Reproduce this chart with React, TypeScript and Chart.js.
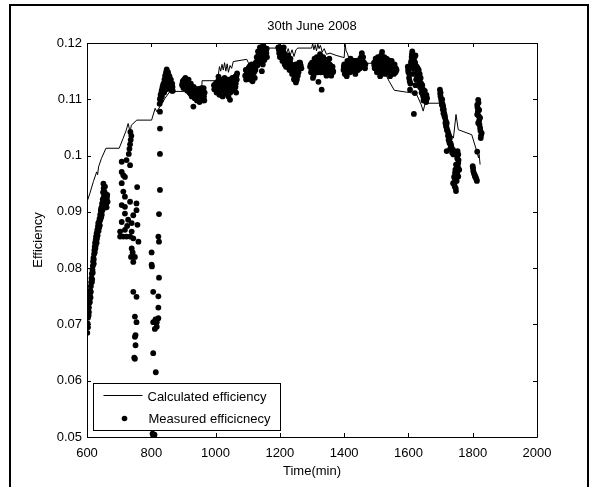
import { useEffect, useRef } from 'react';
import { Chart, registerables } from 'chart.js';

Chart.register(...registerables);

const FONT = '"Liberation Sans", Arial, Helvetica, sans-serif';

const chartTitle = '30th June 2008';
const xAxisTitle = 'Time(min)';
const yAxisTitle = 'Efficiency';
const seriesNames = ['Calculated efficiency', 'Measured efficicnecy'];

const xTicks = [600, 800, 1000, 1200, 1400, 1600, 1800, 2000];
const xTickLabels = ['600', '800', '1000', '1200', '1400', '1600', '1800', '2000'];
const yTicks = [0.05, 0.06, 0.07, 0.08, 0.09, 0.1, 0.11, 0.12];
const yTickLabels = ['0.05', '0.06', '0.07', '0.08', '0.09', '0.1', '0.11', '0.12'];

// Calculated efficiency [time (min), efficiency]
const calculated: [number, number][] = [
  [600,0.0918],[609,0.0933],[620,0.0954],[630,0.0971],[633,0.0966],[636,0.098],[645,0.0995],[659,0.1013],
  [700,0.1013],[712,0.103],[722,0.1045],[728,0.1057],[734,0.1042],[738,0.1054],[755,0.1063],[801,0.1063],
  [812,0.1084],[817,0.1078],[827,0.1087],[843,0.1102],[858,0.1114],[957,0.1114],[958,0.1133],[1003,0.1133],
  [1008,0.114],[1012,0.1158],[1016,0.115],[1020,0.1162],[1024,0.1152],[1028,0.1165],[1032,0.115],[1036,0.1163],
  [1040,0.1148],[1045,0.116],[1050,0.1155],[1055,0.1167],[1097,0.1171],[1102,0.1165],[1108,0.115],[1115,0.1145],
  [1120,0.116],[1128,0.117],[1135,0.1178],[1142,0.1185],[1151,0.1196],[1155,0.1191],[1195,0.1191],[1198,0.1198],
  [1201,0.1175],[1205,0.1185],[1210,0.1178],[1215,0.1189],[1220,0.118],[1226,0.119],[1232,0.1178],[1238,0.1188],
  [1244,0.1176],[1250,0.1188],[1256,0.1191],[1299,0.1191],[1302,0.1199],[1306,0.1188],[1310,0.1197],[1314,0.1186],
  [1318,0.1198],[1322,0.119],[1326,0.1196],[1332,0.1184],[1338,0.119],[1345,0.118],[1356,0.1182],[1375,0.1178],
  [1400,0.1174],[1403,0.1198],[1406,0.1186],[1410,0.1182],[1418,0.1167],[1434,0.1164],[1501,0.1164],[1510,0.1155],
  [1520,0.115],[1532,0.1141],[1540,0.1132],[1552,0.112],[1556,0.1116],[1590,0.1113],[1605,0.1112],[1626,0.1108],
  [1640,0.109],[1646,0.1079],[1652,0.1093],[1698,0.1093],[1708,0.107],[1719,0.1049],[1740,0.1031],[1748,0.1073],
  [1755,0.1046],[1797,0.1037],[1814,0.1005],[1818,0.0996],[1820,0.1002],[1823,0.0984],
];

// Measured efficiency, by group of readings [time (min), efficiency]
const measuredA: [number, number][] = [
  [601,0.0685],[602,0.0702],[603,0.0712],[604,0.0722],[605,0.0716],[606,0.073],[607,0.0738],[608,0.0746],
  [609,0.0752],[610,0.076],[611,0.0748],[612,0.0768],[613,0.0775],[614,0.0782],[615,0.079],[616,0.078],
  [617,0.0797],[618,0.0804],[619,0.0812],[620,0.0818],[621,0.0808],[622,0.0825],[623,0.0832],[624,0.0838],
  [625,0.0845],[626,0.0835],[627,0.085],[628,0.0856],[630,0.0862],[631,0.0852],[632,0.0868],[634,0.0874],
  [636,0.0866],[637,0.0882],[639,0.0888],[640,0.0876],[641,0.0895],[643,0.0902],[644,0.089],[645,0.0908],
  [647,0.0915],[648,0.0903],[649,0.0922],[650,0.0935],[651,0.095],[652,0.0942],[653,0.0928],[654,0.0912],
  [655,0.0935],[656,0.0945],[657,0.092],[658,0.0908],[660,0.0915],[662,0.0925],[664,0.0918],[659,0.093],
  [603,0.0695],[606,0.0722],[609,0.074],[612,0.0758],[615,0.0775],[618,0.0792],[621,0.0815],[624,0.0828],
  [627,0.084],[630,0.0845],[633,0.0858],[635,0.088],[638,0.0872],[641,0.0885],[644,0.0905],[646,0.0895],
  [649,0.0912],[652,0.0925],[655,0.0915],[658,0.0925],[661,0.0908],[663,0.093],
];
const measuredB: [number, number][] = [
  [708,0.0989],[723,0.0992],[734,0.0983],[708,0.0971],[718,0.0962],[708,0.0951],[713,0.0936],[718,0.0927],
  [708,0.0912],[718,0.0909],[734,0.0918],[756,0.0944],[754,0.0915],[754,0.0903],[744,0.0894],[718,0.0897],
  [708,0.0882],[728,0.0886],[739,0.088],[757,0.0877],[703,0.0865],[718,0.0868],[739,0.0865],[703,0.0856],
  [723,0.0856],[744,0.0853],[713,0.0856],[734,0.0856],[760,0.0847],[739,0.0835],[737,0.082],[749,0.082],
  [744,0.0811],[744,0.0758],[754,0.0749],[749,0.0714],[754,0.0704],[749,0.0678],[751,0.0663],[749,0.0639],
  [747,0.0641],[751,0.0681],[730,0.1003],[732,0.1012],[734,0.102],[736,0.1028],[738,0.1035],[735,0.1042],
  [713,0.0965],[725,0.0875],[742,0.0828],
];
const measuredC: [number, number][] = [
  [827,0.1078],[827,0.1048],[827,0.1003],[827,0.0939],[824,0.0896],[822,0.0856],[824,0.0847],[801,0.0828],
  [801,0.0806],[802,0.0803],[824,0.0783],[806,0.0758],[822,0.075],[822,0.073],[822,0.0711],[806,0.0704],
  [817,0.0704],[817,0.0696],[811,0.0692],[813,0.0709],[806,0.0649],[814,0.0615],[806,0.0503],[808,0.0502],
  [804,0.0506],[810,0.0504],
];
const measuredD: [number, number][] = [
  [826,0.1092],[827,0.11],[829,0.1108],[830,0.1098],[832,0.1115],[833,0.1105],[835,0.1122],[836,0.1112],
  [838,0.1128],[839,0.1118],[841,0.1135],[842,0.1125],[843,0.1142],[845,0.1132],[846,0.1148],[848,0.1153],
  [849,0.114],[850,0.1128],[852,0.1148],[853,0.1135],[855,0.1142],[856,0.1125],[858,0.1132],[860,0.1118],
  [862,0.1128],[864,0.1115],[866,0.1122],[847,0.1118],[840,0.1112],
  [828,0.1102],[831,0.111],[834,0.1118],[837,0.1125],[840,0.1128],[844,0.1138],[847,0.1142],[850,0.1148],
  [851,0.1135],[854,0.1128],[857,0.114],[859,0.1125],[861,0.1135],[863,0.1122],[865,0.1128],[867,0.1115],
];
const measuredE: [number, number][] = [
  [896,0.1125],[898,0.1132],[900,0.112],[902,0.1135],[904,0.1128],[906,0.1138],[908,0.1122],[910,0.113],
  [912,0.1115],[914,0.1125],[916,0.1135],[918,0.1118],[920,0.1128],[922,0.111],[924,0.112],[926,0.1105],
  [928,0.1115],[931,0.1087],[932,0.1122],[934,0.1108],[936,0.1118],[938,0.1102],[940,0.1112],[942,0.1098],
  [944,0.1108],[946,0.1118],[948,0.1103],[950,0.1095],[952,0.1112],[954,0.1102],[956,0.112],[958,0.1108],
  [960,0.1098],[962,0.1115],[964,0.1105],[966,0.1112],
  [897,0.1128],[901,0.1128],[905,0.1132],[907,0.1128],[909,0.1135],[911,0.1125],[913,0.112],[915,0.113],
  [917,0.1125],[919,0.1112],[921,0.1118],[923,0.1128],[925,0.1112],[927,0.112],[929,0.1108],[933,0.1112],
  [935,0.1102],[937,0.111],[939,0.1118],[941,0.1105],[943,0.1115],[945,0.1105],[947,0.111],[949,0.1118],
  [951,0.1105],[953,0.1108],[955,0.1115],[957,0.1102],[959,0.1112],[961,0.1108],[963,0.112],[965,0.1098],
];
const measuredF: [number, number][] = [
  [995,0.1125],[998,0.1118],[1000,0.1128],[1003,0.1112],[1005,0.1122],[1008,0.1132],[1010,0.1118],[1012,0.1108],
  [1015,0.1125],[1018,0.1135],[1020,0.1115],[1022,0.1105],[1025,0.1128],[1028,0.1138],[1030,0.112],[1032,0.111],
  [1035,0.1128],[1038,0.1118],[1040,0.1105],[1042,0.1135],[1045,0.1099],[1048,0.1125],[1050,0.1115],[1052,0.1138],
  [1055,0.1128],[1058,0.1118],[1060,0.1132],[1062,0.1122],[1064,0.1112],[1065,0.1142],[1066,0.1135],[1067,0.1146],
  [996,0.1118],[999,0.1125],[1002,0.1118],[1004,0.113],[1007,0.1125],[1009,0.114],[1011,0.1128],[1014,0.1115],
  [1016,0.1132],[1019,0.1125],[1021,0.1122],[1024,0.1115],[1026,0.1132],[1029,0.1128],[1031,0.1128],[1034,0.1118],
  [1036,0.1135],[1039,0.1128],[1041,0.1115],[1044,0.1125],[1046,0.1112],[1049,0.1132],[1051,0.1122],[1054,0.1118],
  [1056,0.1135],[1059,0.1125],[1061,0.114],[1063,0.1128],
];
const measuredG: [number, number][] = [
  [1092,0.1142],[1095,0.1135],[1098,0.1148],[1100,0.1138],[1102,0.1155],[1105,0.1145],[1108,0.1135],[1110,0.115],
  [1112,0.1162],[1115,0.1142],[1118,0.1155],[1120,0.1148],[1122,0.1138],[1125,0.1165],[1128,0.1175],[1130,0.116],
  [1132,0.1185],[1135,0.117],[1138,0.1192],[1140,0.1178],[1142,0.1165],[1144,0.115],[1145,0.1188],[1148,0.1196],
  [1150,0.118],[1152,0.117],[1155,0.119],[1158,0.1182],[1160,0.1175],[1105,0.1158],[1115,0.1132],
  [1094,0.1152],[1097,0.1142],[1100,0.1152],[1103,0.114],[1107,0.1148],[1110,0.114],[1113,0.1152],[1117,0.1148],
  [1121,0.1158],[1124,0.1152],[1127,0.1162],[1130,0.117],[1133,0.1178],[1136,0.1182],[1139,0.117],[1141,0.1188],
  [1143,0.1178],[1146,0.117],[1149,0.1188],[1151,0.1192],[1153,0.118],[1156,0.1185],[1159,0.119],[1147,0.1162],
];
const measuredH: [number, number][] = [
  [1195,0.1192],[1198,0.1182],[1200,0.1175],[1203,0.1188],[1205,0.1178],[1208,0.1168],[1210,0.1185],[1212,0.1172],
  [1215,0.1162],[1218,0.1178],[1220,0.1168],[1222,0.1158],[1225,0.1172],[1228,0.1162],[1230,0.1152],[1232,0.1165],
  [1235,0.1155],[1238,0.1145],[1240,0.1158],[1242,0.1148],[1245,0.1138],[1248,0.1152],[1250,0.1142],[1253,0.1135],
  [1255,0.1158],[1258,0.1148],[1260,0.1165],[1262,0.1155],[1265,0.116],[1250,0.113],[1200,0.1192],[1212,0.1192],
  [1197,0.1188],[1202,0.118],[1206,0.1188],[1209,0.1175],[1213,0.1182],[1217,0.117],[1219,0.1158],[1223,0.1165],
  [1226,0.1178],[1229,0.1155],[1233,0.1172],[1236,0.1162],[1239,0.1152],[1243,0.1158],[1246,0.1145],[1249,0.1162],
  [1252,0.115],[1256,0.1142],[1259,0.1158],[1263,0.1165],[1267,0.1155],[1244,0.1135],
];
const measuredI: [number, number][] = [
  [1294,0.1158],[1297,0.1148],[1300,0.1165],[1302,0.1155],[1305,0.1142],[1308,0.1172],[1310,0.116],[1312,0.115],
  [1315,0.1175],[1318,0.1165],[1320,0.1131],[1322,0.1155],[1325,0.118],[1328,0.117],[1330,0.1117],[1332,0.1162],
  [1335,0.1175],[1338,0.1165],[1340,0.1152],[1342,0.117],[1345,0.116],[1348,0.1148],[1350,0.1165],[1352,0.1155],
  [1355,0.1162],[1358,0.115],[1360,0.1142],[1362,0.1155],[1365,0.1148],[1303,0.1138],[1345,0.1142],
  [1296,0.1162],[1299,0.1152],[1304,0.1162],[1307,0.115],[1311,0.1168],[1314,0.1158],[1317,0.1148],[1321,0.1168],
  [1324,0.1158],[1327,0.1148],[1331,0.1172],[1334,0.1155],[1337,0.1148],[1341,0.116],[1344,0.117],[1347,0.1158],
  [1351,0.1148],[1354,0.1172],[1357,0.116],[1361,0.1152],[1364,0.1158],[1366,0.115],
];
const measuredJ: [number, number][] = [
  [1398,0.1152],[1400,0.1162],[1402,0.1145],[1405,0.1158],[1408,0.1141],[1410,0.1168],[1412,0.1152],[1415,0.1162],
  [1418,0.1148],[1420,0.1172],[1422,0.1158],[1425,0.1165],[1428,0.115],[1430,0.1168],[1432,0.1158],[1435,0.1145],
  [1438,0.1162],[1440,0.1155],[1442,0.1168],[1445,0.1158],[1448,0.1162],[1450,0.1172],[1452,0.1162],[1455,0.1182],
  [1458,0.1168],[1460,0.1158],[1462,0.1165],[1465,0.1155],
  [1399,0.1158],[1403,0.1152],[1406,0.1148],[1409,0.1155],[1413,0.1162],[1416,0.1155],[1419,0.1165],[1423,0.115],
  [1426,0.1158],[1429,0.1162],[1433,0.1168],[1436,0.1155],[1439,0.1168],[1443,0.1152],[1446,0.1165],[1449,0.1155],
  [1453,0.1175],[1456,0.1162],[1459,0.1175],[1463,0.116],[1466,0.1162],
];
const measuredK: [number, number][] = [
  [1493,0.1165],[1495,0.1155],[1498,0.1172],[1500,0.116],[1502,0.1148],[1505,0.1175],[1508,0.1165],[1510,0.1155],
  [1512,0.1141],[1515,0.1178],[1518,0.1184],[1520,0.1168],[1522,0.1158],[1525,0.1175],[1528,0.1162],[1530,0.115],
  [1532,0.1172],[1535,0.1162],[1538,0.1152],[1540,0.1168],[1543,0.1141],[1545,0.1158],[1548,0.1168],[1550,0.115],
  [1552,0.116],[1555,0.1145],[1558,0.1155],[1560,0.1148],[1563,0.1152],[1527,0.1145],
  [1494,0.116],[1497,0.1165],[1501,0.1168],[1504,0.1158],[1507,0.1172],[1511,0.1162],[1514,0.1152],[1517,0.117],
  [1521,0.1175],[1524,0.1165],[1526,0.1155],[1529,0.1168],[1533,0.1158],[1536,0.117],[1539,0.116],[1542,0.1152],
  [1546,0.1162],[1549,0.1158],[1553,0.1152],[1557,0.1162],[1561,0.1155],[1514,0.1145],[1535,0.1148],
];
const measuredL: [number, number][] = [
  [1598,0.1158],[1600,0.1148],[1602,0.1138],[1605,0.1117],[1608,0.1165],[1610,0.1175],[1612,0.1185],[1614,0.1155],
  [1615,0.1145],[1617,0.1074],[1618,0.1168],[1620,0.1111],[1622,0.1178],[1624,0.1135],[1626,0.1158],[1628,0.1148],
  [1630,0.114],[1632,0.1152],[1634,0.113],[1636,0.1122],[1638,0.1138],[1640,0.1128],[1642,0.1118],[1644,0.111],
  [1646,0.1105],[1648,0.1115],[1650,0.11],[1652,0.1108],[1655,0.1095],[1658,0.1102],[1606,0.1128],[1622,0.1125],
  [1599,0.1152],[1603,0.1145],[1604,0.1132],[1607,0.1158],[1609,0.1168],[1611,0.118],[1613,0.1172],[1616,0.1162],
  [1619,0.1175],[1621,0.1165],[1623,0.1155],[1625,0.1145],[1627,0.1138],[1629,0.1155],[1631,0.1145],[1633,0.1138],
  [1635,0.1145],[1637,0.113],[1639,0.112],[1641,0.1112],[1643,0.1125],[1645,0.1118],[1647,0.1098],[1649,0.1108],
  [1651,0.1115],[1653,0.1098],[1656,0.1108],
];
const measuredM: [number, number][] = [
  [1698,0.1117],[1700,0.1105],[1703,0.1096],[1708,0.1088],[1711,0.1076],[1714,0.1067],[1719,0.1058],[1719,0.1049],
  [1724,0.104],[1729,0.1031],[1731,0.1022],[1735,0.1013],[1719,0.1008],[1739,0.101],[1755,0.1002],[1755,0.0987],
  [1750,0.0978],[1745,0.0969],[1745,0.0957],[1739,0.0951],[1748,0.0937],[1755,0.0963],[1758,0.0975],[1700,0.1112],
  [1705,0.11],[1706,0.1092],[1710,0.1082],[1712,0.107],[1716,0.1062],[1717,0.1052],[1722,0.1044],[1726,0.1036],
  [1727,0.1026],[1733,0.1018],[1730,0.1012],[1752,0.0995],[1748,0.0984],[1752,0.097],[1742,0.0962],[1750,0.0955],
  [1744,0.0945],[1753,0.1008],
  [1699,0.111],[1702,0.11],[1704,0.109],[1707,0.1082],[1709,0.1075],[1713,0.1072],[1715,0.1058],[1718,0.1055],
  [1720,0.1045],[1723,0.1035],[1725,0.1028],[1728,0.1022],[1732,0.1015],[1736,0.1005],[1740,0.1002],[1746,0.0975],
  [1749,0.0965],[1754,0.098],[1756,0.0992],[1743,0.095],[1747,0.0942],
];
const measuredN: [number, number][] = [
  [1817,0.1099],[1814,0.109],[1820,0.1081],[1814,0.1073],[1823,0.1067],[1817,0.1058],[1823,0.1049],[1828,0.104],
  [1825,0.1031],[1800,0.0981],[1802,0.0972],[1807,0.0963],[1812,0.0957],[1814,0.1007],[1818,0.1094],[1816,0.1078],
  [1820,0.1062],[1804,0.0968],[1810,0.096],
  [1815,0.1085],[1819,0.107],[1821,0.1055],[1824,0.1044],[1826,0.1036],[1801,0.0977],[1806,0.0966],[1809,0.0962],
  [1813,0.0955],
];

const measured = [
  ...measuredA, ...measuredB, ...measuredC, ...measuredD, ...measuredE, ...measuredF, ...measuredG,
  ...measuredH, ...measuredI, ...measuredJ, ...measuredK, ...measuredL, ...measuredM, ...measuredN,
];

const framePlugin = {
  id: 'frame',
  beforeDraw(chart: any) {
    const ctx = chart.ctx;
    ctx.save();
    ctx.fillStyle = '#ffffff';
    ctx.fillRect(0, 0, chart.width, chart.height);
    ctx.strokeStyle = '#000000';
    ctx.lineWidth = 2;
    ctx.strokeRect(10, 5, 578, 500);
    ctx.restore();
  },
};

const axesBoxPlugin = {
  id: 'axesBox',
  afterDatasetsDraw(chart: any) {
    const { ctx, chartArea } = chart;
    const { left, right, top, bottom } = chartArea;
    const xs = chart.scales.x;
    const ys = chart.scales.y;
    ctx.save();
    ctx.strokeStyle = '#000000';
    ctx.lineWidth = 1;
    ctx.beginPath();
    ctx.rect(Math.round(left) + 0.5, Math.round(top) + 0.5, Math.round(right - left), Math.round(bottom - top));
    const tl = 4;
    xs.ticks.forEach((t: any) => {
      const px = Math.round(xs.getPixelForValue(t.value)) + 0.5;
      ctx.moveTo(px, bottom);
      ctx.lineTo(px, bottom - tl);
      ctx.moveTo(px, top);
      ctx.lineTo(px, top + tl);
    });
    ys.ticks.forEach((t: any) => {
      const py = Math.round(ys.getPixelForValue(t.value)) + 0.5;
      ctx.moveTo(left, py);
      ctx.lineTo(left + tl, py);
      ctx.moveTo(right, py);
      ctx.lineTo(right - tl, py);
    });
    ctx.stroke();
    ctx.restore();
  },
};

const legendBoxPlugin = {
  id: 'legendBox',
  afterDraw(chart: any) {
    const { ctx, chartArea } = chart;
    const bx = Math.round(chartArea.left) + 6.5;
    const by = Math.round(chartArea.bottom) - 53.5;
    const bw = 187;
    const bh = 47;
    ctx.save();
    ctx.fillStyle = '#ffffff';
    ctx.fillRect(bx, by, bw, bh);
    ctx.strokeStyle = '#000000';
    ctx.lineWidth = 1;
    ctx.strokeRect(bx, by, bw, bh);
    const ds = chart.data.datasets;
    ctx.beginPath();
    ctx.moveTo(bx + 10, by + 12);
    ctx.lineTo(bx + 49, by + 12);
    ctx.stroke();
    ctx.fillStyle = '#000000';
    ctx.beginPath();
    ctx.arc(bx + 31, by + 35, 2.8, 0, Math.PI * 2);
    ctx.fill();
    ctx.font = '13px ' + FONT;
    ctx.textBaseline = 'middle';
    ctx.textAlign = 'left';
    ctx.fillText(ds[0].label, bx + 54, by + 13.5);
    ctx.fillText(ds[1].label, bx + 55, by + 36);
    ctx.restore();
  },
};

export default function App() {
  const canvasRef = useRef<HTMLCanvasElement | null>(null);

  useEffect(() => {
    const canvas = canvasRef.current;
    if (!canvas) return;
    const chart = new Chart(canvas, {
      type: 'scatter',
      data: {
        datasets: [
          {
            type: 'line',
            label: seriesNames[0],
            data: calculated.map(([x, y]) => ({ x, y })),
            borderColor: '#000000',
            borderWidth: 1,
            pointRadius: 0,
            tension: 0,
            fill: false,
            order: 2,
          } as any,
          {
            type: 'scatter',
            label: seriesNames[1],
            data: measured.map(([x, y]) => ({ x, y })),
            backgroundColor: '#000000',
            borderColor: '#000000',
            borderWidth: 0,
            pointRadius: 2.9,
            pointHoverRadius: 2.9,
            order: 1,
          },
        ],
      },
      options: {
        responsive: false,
        animation: false,
        events: [],
        layout: { padding: { left: 0, right: 61, top: 0, bottom: 0 } },
        plugins: {
          legend: { display: false },
          tooltip: { enabled: false },
          title: {
            display: true,
            fullSize: false,
            text: chartTitle,
            color: '#000000',
            font: { family: FONT, size: 13, weight: 'normal' },
            padding: { top: 19, bottom: 8.4 },
          },
        },
        scales: {
          x: {
            type: 'linear',
            min: 600,
            max: 2000,
            afterBuildTicks: (scale: any) => {
              scale.ticks = xTicks.map((v) => ({ value: v }));
            },
            afterFit: (scale: any) => {
              scale.height = 50;
            },
            grid: { display: false, drawTicks: false },
            border: { display: false },
            ticks: {
              autoSkip: false,
              maxRotation: 0,
              padding: 9,
              color: '#000000',
              font: { family: FONT, size: 13 },
              callback: (_v: any, i: number) => xTickLabels[i],
            },
            title: {
              display: true,
              text: xAxisTitle,
              color: '#000000',
              font: { family: FONT, size: 13 },
              padding: { top: 0, bottom: 8.2 },
            },
          },
          y: {
            type: 'linear',
            min: 0.05,
            max: 0.12,
            afterBuildTicks: (scale: any) => {
              scale.ticks = yTicks.map((v) => ({ value: v }));
            },
            afterFit: (scale: any) => {
              scale.width = 87;
            },
            grid: { display: false, drawTicks: false },
            border: { display: false },
            ticks: {
              autoSkip: false,
              padding: 5,
              color: '#000000',
              font: { family: FONT, size: 13 },
              callback: (_v: any, i: number) => yTickLabels[i],
            },
            title: {
              display: true,
              text: yAxisTitle,
              color: '#000000',
              font: { family: FONT, size: 13 },
              padding: { top: 31, bottom: 0 },
            },
          },
        },
      },
      plugins: [framePlugin, axesBoxPlugin, legendBoxPlugin],
    });
    return () => chart.destroy();
  }, []);

  return (
    <div style={{ position: 'fixed', left: 0, top: 0, width: 598, height: 487, background: '#ffffff' }}>
      <canvas ref={canvasRef} width={598} height={487} style={{ display: 'block' }} />
    </div>
  );
}
